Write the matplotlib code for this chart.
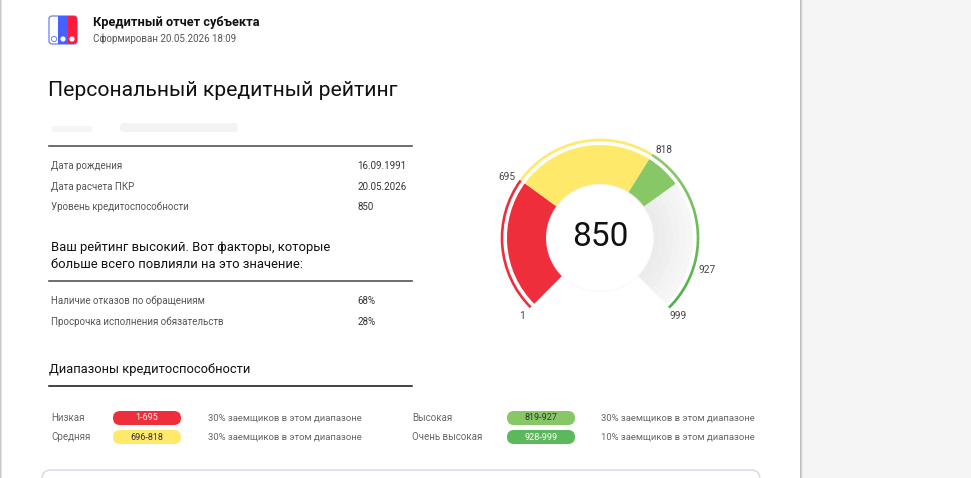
import numpy as np
import matplotlib
matplotlib.use("Agg")
import matplotlib.pyplot as plt
from matplotlib.patches import Wedge, Arc, Circle, Rectangle, FancyBboxPatch

plt.rcParams['font.family'] = ['Roboto', 'DejaVu Sans']

# ---- data ----
report_title = "Кредитный отчет субъекта"
report_date = "Сформирован 20.05.2026 18:09"
page_title = "Персональный кредитный рейтинг"

info_labels = ["Дата рождения", "Дата расчета ПКР", "Уровень кредитоспособности"]
info_values = ["16.09.1991", "20.05.2026", "850"]

factors_title = "Ваш рейтинг высокий. Вот факторы, которые\nбольше всего повлияли на это значение:"
factor_labels = ["Наличие отказов по обращениям", "Просрочка исполнения обязательств"]
factor_values = ["68%", "28%"]

score = 850
range_names = ["Низкая", "Средняя", "Высокая", "Очень высокая"]
range_low = [1, 696, 819, 928]
range_high = [695, 818, 927, 999]
range_share = [30, 30, 30, 10]
gauge_ticks = [1, 695, 818, 927, 999]

# ---- styles ----
range_colors = ["#ef2e3b", "#ffe96b", "#88c766", "#5cb85c"]
pill_text_colors = ["white", "#333333", "#333333", "white"]
# angle (deg) on the dial for each tick value
tick_angles = [225, 144, 58, -18, -45]
cx, cy = 600, 238
r_in, r_out, r_line = 53, 93, 98


def val_to_angle(v):
    return np.interp(v, gauge_ticks, tick_angles)


def pt(angle, r):
    a = np.radians(angle)
    return cx + r * np.cos(a), cy - r * np.sin(a)


def wedge(a1, a2, r, width, color, z=3):
    # angles on screen; y-axis is inverted, so flip sign
    return Wedge((cx, cy), r, -a1, -a2, width=width, facecolor=color,
                 edgecolor='none', zorder=z)


fig = plt.figure(figsize=(9.71, 4.78), dpi=100)
ax = fig.add_axes([0, 0, 1, 1])
ax.set_xlim(0, 971)
ax.set_ylim(478, 0)
ax.axis('off')

# page background
ax.add_patch(Rectangle((800, 0), 171, 478, facecolor='#f5f5f5', edgecolor='none', zorder=0))
for i, c in enumerate(['#bdbdbd', '#d4d4d4', '#e6e6e6']):
    ax.add_patch(Rectangle((800 + i, 0), 1, 478, facecolor=c, edgecolor='none', zorder=1))
for i, c in enumerate(['#c8c8c8', '#e2e2e2']):
    ax.add_patch(Rectangle((i, 0), 1, 478, facecolor=c, edgecolor='none', zorder=1))

# logo
ax.add_patch(FancyBboxPatch((49, 16), 28, 28, boxstyle="round,pad=0,rounding_size=3",
                            facecolor='white', edgecolor='#5b6cff', lw=0.8, zorder=2))
ax.add_patch(FancyBboxPatch((58, 16), 19, 28, boxstyle="round,pad=0,rounding_size=3",
                            facecolor='#ff1a3c', edgecolor='none', zorder=3))
ax.add_patch(Rectangle((58, 16), 10, 28, facecolor='#4561ff', edgecolor='none', zorder=4))
ax.add_patch(Circle((54, 39), 2.6, facecolor='white', edgecolor='#5b6cff', lw=0.6, zorder=5))
ax.add_patch(Circle((63, 39), 2.6, facecolor='white', edgecolor='none', zorder=5))
ax.add_patch(Circle((72, 39), 2.6, facecolor='white', edgecolor='none', zorder=5))

ax.text(93, 22, report_title, fontsize=9.2, fontweight='semibold', color='#111111', va='center')
ax.text(93, 39, report_date, fontsize=7, color='#555555', va='center')
ax.text(48, 90, page_title, fontsize=15.2, color='#111111', va='center')

# blurred name
ax.add_patch(FancyBboxPatch((52, 126), 40, 6, boxstyle="round,pad=0,rounding_size=3",
                            facecolor='#f5f5f5', edgecolor='none', zorder=2))
ax.add_patch(FancyBboxPatch((120, 123), 118, 9, boxstyle="round,pad=0,rounding_size=4",
                            facecolor='#f3f3f3', edgecolor='none', zorder=2))

# info table
ax.plot([49, 412], [146, 146], color='#555555', lw=1.2)
for i, (lab, val) in enumerate(zip(info_labels, info_values)):
    y = 166 + i * 20.5
    ax.text(51, y, lab, fontsize=7, color='#555555', va='center')
    ax.text(357, y, val, fontsize=7, color='#333333', va='center')

ax.text(51, 256, factors_title, fontsize=9.4, color='#111111', va='center', linespacing=1.5)
ax.plot([49, 412], [281, 281], color='#555555', lw=1.2)
for i, (lab, val) in enumerate(zip(factor_labels, factor_values)):
    y = 301 + i * 21
    ax.text(51, y, lab, fontsize=7, color='#555555', va='center')
    ax.text(357, y, val, fontsize=7, color='#333333', va='center')

# ranges legend
ax.text(49, 369, "Диапазоны кредитоспособности", fontsize=9.3, color='#111111', va='center')
ax.plot([49, 412], [386, 386], color='#111111', lw=1.1)
col_x = [(51, 113, 208), (412, 507, 601)]
for i, name in enumerate(range_names):
    lx, px, tx = col_x[i // 2]
    y = 418 + (i % 2) * 19
    ax.text(lx, y, name, fontsize=7, color='#666666', va='center')
    ax.add_patch(FancyBboxPatch((px, y - 7), 68, 14, boxstyle="round,pad=0,rounding_size=7",
                                facecolor=range_colors[i], edgecolor='none', zorder=3))
    ax.text(px + 34, y, f"{range_low[i]}-{range_high[i]}", fontsize=6.5, color=pill_text_colors[i],
            ha='center', va='center', zorder=4)
    ax.text(tx, y, f"{range_share[i]}% заемщиков в этом диапазоне", fontsize=6.8,
            color='#666666', va='center')

# bottom card
ax.add_patch(FancyBboxPatch((42, 470), 718, 40, boxstyle="round,pad=0,rounding_size=9",
                            facecolor='white', edgecolor='#d6d6e4', lw=1, zorder=2))

# ---- gauge ----
score_angle = val_to_angle(score)
end_angle = tick_angles[-1]
# grey remainder with a soft radial shade
shades = ['#ebebeb', '#ededed', '#efefef', '#f2f2f2', '#f4f4f4', '#f6f6f6']
step = (r_out - r_in) / len(shades)
for k, c in enumerate(shades):
    ax.add_patch(wedge(score_angle, end_angle, r_in + (k + 1) * step, step + 0.4, c, z=3))

# coloured fill up to the score
for i in range(len(range_low)):
    a1 = tick_angles[i]
    a2 = max(tick_angles[i + 1], score_angle)
    if a1 <= score_angle:
        break
    ax.add_patch(wedge(a1, a2, r_out, r_out - r_in, range_colors[i], z=4))

# outer thin arc
for i in range(2):
    ax.add_patch(Arc((cx, cy), 2 * r_line, 2 * r_line, theta1=-tick_angles[i],
                     theta2=-tick_angles[i + 1], color=range_colors[i], lw=1.9, zorder=5))
green_a = np.linspace(tick_angles[2], end_angle, 40)
c0 = np.array(matplotlib.colors.to_rgb('#8dcc6a'))
c1 = np.array(matplotlib.colors.to_rgb('#4fae4a'))
for k in range(len(green_a) - 1):
    t = k / (len(green_a) - 2)
    ax.add_patch(Arc((cx, cy), 2 * r_line, 2 * r_line, theta1=-green_a[k],
                     theta2=-green_a[k + 1] + 0.3, color=c0 * (1 - t) + c1 * t,
                     lw=1.9, zorder=5))

# inner circle
ax.add_patch(Circle((cx, cy), r_in + 1, facecolor='#f7f7f7', edgecolor='none', zorder=5))
ax.add_patch(Circle((cx, cy), r_in, facecolor='white', edgecolor='none', zorder=6))
ax.text(cx, cy - 1, str(score), fontsize=24, color='#111111', ha='center', va='center', zorder=7)

# tick labels
for v, a in zip(gauge_ticks, tick_angles):
    if a in (tick_angles[0], tick_angles[-1]):
        x, y = pt(a, 110)
        ha = 'center'
    elif a > 90:
        x, y = pt(a, 104)
        ha = 'right'
    else:
        x, y = pt(a, 104)
        ha = 'left'
    ax.text(x, y, str(v), fontsize=7.3, color='#444444', ha=ha, va='center', zorder=7)

fig.savefig("out.png", dpi=100)
